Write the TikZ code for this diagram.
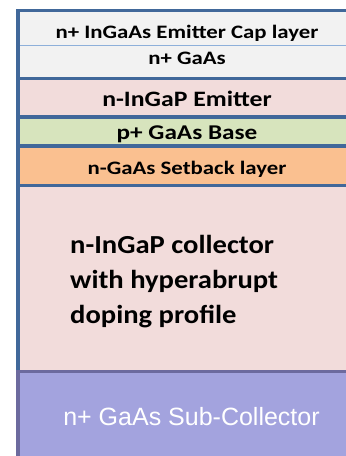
\documentclass[tikz,border=0pt]{standalone}
\usepackage{graphicx}
\usepackage{fontspec}
\setmainfont{Carlito}
\newfontfamily\arialfont{Liberation Sans}
\definecolor{edgeblue}{HTML}{41689A}
\definecolor{thinblue}{HTML}{8EB0DA}
\definecolor{capgray}{HTML}{F2F2F2}
\definecolor{layerpink}{HTML}{F2DCDB}
\definecolor{basegreen}{HTML}{D7E4BD}
\definecolor{setorange}{HTML}{FAC090}
\definecolor{sublilac}{HTML}{A3A3DE}
\definecolor{subedge}{HTML}{6C6A9E}
% Stretch a text sideways, as the screen font of the original is wider
\newcommand{\widetext}[2]{\scalebox{#1}[1]{#2}}
\begin{document}
\begin{tikzpicture}[x=1pt, y=-1pt,
    layerline/.style={line width=3.5pt, draw=edgeblue},
    label/.style={anchor=base, font=\bfseries\fontsize{19}{19}\selectfont}]

    % Fix the picture size
    \useasboundingbox (0,0) rectangle (346,456);
    \clip (0,0) rectangle (346,456);

    % Define the left edge and the (hidden) right edge of the stack
    \def\L{18}
    \def\R{370}

    % Fill the layers from top to bottom
    \fill[capgray]    (\L,10.5)  rectangle (\R,78.7);
    \fill[layerpink]  (\L,78.7)  rectangle (\R,117);
    \fill[basegreen]  (\L,117)   rectangle (\R,146);
    \fill[setorange]  (\L,146)   rectangle (\R,185.5);
    \fill[layerpink]  (\L,185.5) rectangle (\R,371.5);
    \fill[sublilac]   (\L,371.5) rectangle (\R,470);

    % Thin line between the cap layer and the n+ GaAs layer
    \draw[thinblue, line width=1pt] (\L,45) -- (\R,45);

    % Outer border and the lines between the layers
    \draw[layerline] (\L,371.5) -- (\L,10.5) -- (\R,10.5);
    \draw[layerline] (\L,78.7) -- (\R,78.7);
    \draw[layerline] (\L,117) -- (\R,117);
    \draw[layerline] (\L,146) -- (\R,146);
    \draw[layerline] (\L,185.5) -- (\R,185.5);

    % Border of the sub-collector
    \draw[subedge, line width=3.5pt] (\L,470) -- (\L,371.5) -- (\R,371.5);

    % Labels of the thin layers
    \node[label] (cap) at (187,38) {\widetext{1.2}{n+ InGaAs Emitter Cap layer}};
    \node[label] (gaas) at (187,64) {\widetext{1.2}{n+ GaAs}};
    \node[label, font=\bfseries\fontsize{22}{22}\selectfont] (emitter) at (187,106)
          {\widetext{1.17}{n-InGaP Emitter}};
    \node[label, font=\bfseries\fontsize{21}{21}\selectfont] (base) at (187,139.3)
          {\widetext{1.2}{p+ GaAs Base}};
    \node[label] (setback) at (187,174) {\widetext{1.2}{n-GaAs Setback layer}};

    % Collector label, three lines set flush left (base = last line)
    \node[anchor=base west, inner sep=0pt, align=left,
          font=\bfseries\fontsize{26}{35}\selectfont] (collector) at (70,323)
          {\widetext{1.1}{n-InGaP collector}\\
           \widetext{1.1}{with hyperabrupt}\\
           \widetext{1.1}{doping profile}};

    % Sub-collector label
    \node[anchor=base, text=white, font=\arialfont\fontsize{25}{25}\selectfont]
          (subcoll) at (191.5,425) {n+ GaAs Sub-Collector};

\end{tikzpicture}
\end{document}
